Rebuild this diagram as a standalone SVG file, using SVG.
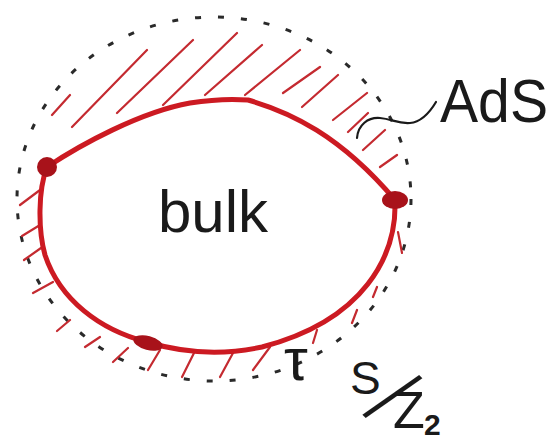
<svg xmlns="http://www.w3.org/2000/svg" width="558" height="440" viewBox="0 0 558 440">
<style>
.lbl{font-family:"Liberation Sans","DejaVu Sans",sans-serif;fill:#1a1a1a}
.hatch{stroke:#c42a30;stroke-width:2.2;stroke-linecap:round;fill:none}
.bnd{stroke:#cc1a22;stroke-width:5;fill:none;stroke-linejoin:round}
.dot{fill:#a8121a}
.dash{stroke:#2a2a2a;stroke-width:3;fill:none;stroke-dasharray:6 17}
</style>
<rect width="558" height="440" fill="#ffffff"/>
<g id="ads-boundary">
<ellipse class="dash" cx="214" cy="199" rx="197" ry="182"/>
</g>
<g id="hatching">
<path class="hatch" d="M52 115L70 95M72 127L147 50M117 113L193 40M163 105L237 33M205 95L262 45M245 95L300 50M283 93L320 67M302 107L338 75M333 120L367 93M348 132L368 113M363 150L385 130M380 167L397 155"/>
<path class="hatch" d="M40 190L20 205M40 225L22 236M41 248L24 260M53 282L33 293M70 320L57 331M100 337L85 347M128 348L113 362M160 350L148 370M194 353L182 377M233 353L220 377M270 347L253 370M317 330L313 343M357 310L352 323M377 287L373 297M398 232L402 253"/>
</g>
<g id="bulk">
<path class="bnd" d="M47 167C80 145 140 112 190 103C215 99 235 99 248 100C290 112 340 135 395 200C397 255 365 320 262 347C220 356 180 352 147 342C100 330 60 300 45 255C38 230 38 190 47 167Z"/>
<ellipse class="dot" cx="47" cy="167" rx="10" ry="10"/>
<ellipse class="dot" cx="395" cy="200" rx="13" ry="9"/>
<ellipse class="dot" cx="148" cy="343" rx="15" ry="7" transform="rotate(15 148 343)"/>
<text class="lbl" x="158" y="232" font-size="60">bulk</text>
</g>
<g id="ads-label">
<text class="lbl" x="440" y="122" font-size="62" textLength="108" lengthAdjust="spacingAndGlyphs">AdS</text>
</g>
<g id="tau-label">
<text class="lbl" x="284" y="380" font-size="60">τ</text>
</g>
<g id="sz2-label">
<text class="lbl" font-size="46" x="350" y="394">S</text>
<text class="lbl" font-size="60" x="0" y="0" transform="translate(363 414) rotate(45) scale(1 1.55)">/</text>
<text class="lbl" font-size="52" x="393" y="428">Z</text>
<text class="lbl" font-size="30" font-weight="bold" x="424" y="435">2</text>
</g>
<g id="connectors">
<path d="M357 138C358 125 368 117 380 118C392 119 398 124 410 123C422 122 430 112 436 102" stroke="#1a1a1a" stroke-width="2.2" fill="none" stroke-linecap="round"/>
</g>
</svg>
